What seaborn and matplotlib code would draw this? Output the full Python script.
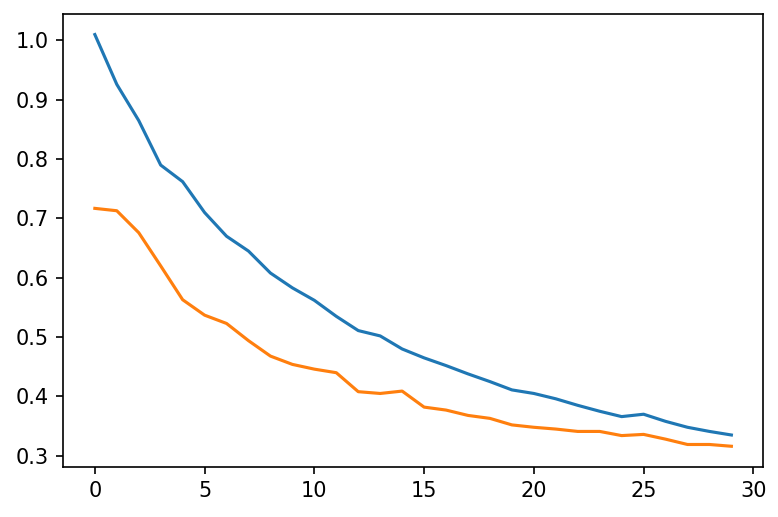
# bibliotecas
import numpy as np
import pandas as pd
import seaborn as sns
import matplotlib.pyplot as plt

# dados
epochs = list(range(30))
train_loss = [1.010, 0.926, 0.865, 0.790, 0.762, 0.710, 0.670, 0.645, 0.608, 0.583,
              0.562, 0.535, 0.511, 0.502, 0.480, 0.465, 0.452, 0.438, 0.425, 0.411,
              0.405, 0.396, 0.385, 0.375, 0.366, 0.370, 0.358, 0.348, 0.341, 0.335]
val_loss = [0.717, 0.713, 0.676, 0.620, 0.563, 0.537, 0.523, 0.494, 0.468, 0.454,
            0.446, 0.440, 0.408, 0.405, 0.409, 0.382, 0.377, 0.368, 0.363, 0.352,
            0.348, 0.345, 0.341, 0.341, 0.334, 0.336, 0.328, 0.319, 0.319, 0.316]

df = pd.DataFrame({"epoch": epochs, "train": train_loss, "val": val_loss})

# cria figura
fig, ax = plt.subplots(figsize=(778 / 150, 517 / 150), dpi=150)
sns.lineplot(data=df, x="epoch", y="train", ax=ax, color="#1f77b4")
sns.lineplot(data=df, x="epoch", y="val", ax=ax, color="#ff7f0e")
ax.set_xlabel("")
ax.set_ylabel("")
ax.set_xticks([0, 5, 10, 15, 20, 25, 30])
plt.subplots_adjust(left=0.081, right=0.981, top=0.973, bottom=0.097)

# salva
plt.savefig("out.png", dpi=150)
